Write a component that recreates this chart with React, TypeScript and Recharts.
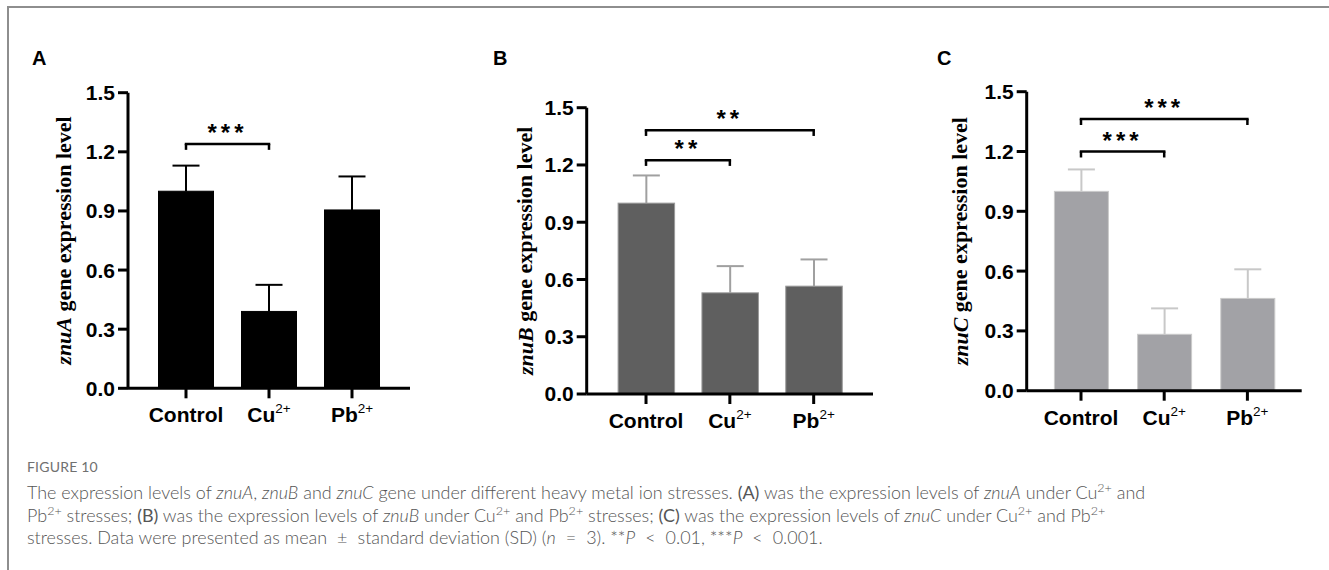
import React from "react";
import { BarChart, Bar, XAxis, YAxis, ReferenceLine } from "recharts";

const categories = ["Control", "Cu", "Pb"];
const categorySup = ["", "2+", "2+"];
const yTicks = [0, 0.3, 0.6, 0.9, 1.2, 1.5];

const znuAMean = [1.0, 0.39, 0.905];
const znuASd = [0.13, 0.135, 0.17];
const znuBMean = [1.0, 0.53, 0.565];
const znuBSd = [0.145, 0.14, 0.14];
const znuCMean = [1.0, 0.283, 0.463];
const znuCSd = [0.11, 0.13, 0.146];

const znuABrackets = [{ from: "Control", to: "Cu", level: 1.24, stars: "***" }];
const znuBBrackets = [
  { from: "Control", to: "Cu", level: 1.225, stars: "**" },
  { from: "Control", to: "Pb", level: 1.382, stars: "**" },
];
const znuCBrackets = [
  { from: "Control", to: "Cu", level: 1.2, stars: "***" },
  { from: "Control", to: "Pb", level: 1.363, stars: "***" },
];

const SANS = "'Liberation Sans', Arial, sans-serif";
const SERIF = "'Liberation Serif', 'Times New Roman', serif";

const XTick = (props: any) => {
  const { x, y, payload } = props;
  const i = categories.indexOf(payload.value);
  const sup = categorySup[i] || "";
  return (
    <text
      x={x}
      y={y + 22}
      textAnchor="middle"
      fontFamily={SANS}
      fontWeight="bold"
      fontSize={21}
      fill="#000"
    >
      {payload.value}
      {sup && (
        <tspan dy={-9} fontSize={13.5} fontWeight="normal">
          {sup}
        </tspan>
      )}
    </text>
  );
};

type PanelProps = {
  letter: string;
  gene: string;
  means: number[];
  sds: number[];
  brackets: { from: string; to: string; level: number; stars: string }[];
  fill: string;
  outline: string;
  errColor: string;
  left: number;
  width: number;
  axisX: number;
  yTop: number;
  yBottom: number;
  xEnd: number;
  pad: number;
  barSize: number;
  titleDist: number;
  letterX: number;
};

function Panel(p: PanelProps) {
  const height = 440;
  const yAxisW = 80;
  const xAxisH = 30;
  const data = categories.map((c, i) => ({ name: c, mean: p.means[i], sd: p.sds[i] }));

  const shape = (s: any) => {
    const { x, y, width, height: h, payload } = s;
    const perUnit = payload.mean ? h / payload.mean : 0;
    const top = y - payload.sd * perUnit;
    const cx = x + width / 2;
    return (
      <g>
        <rect x={x} y={y} width={width} height={h} fill={p.fill} stroke={p.outline} strokeWidth={1} />
        <line x1={cx} y1={y} x2={cx} y2={top} stroke={p.errColor} strokeWidth={2} />
        <line x1={cx - 13.5} y1={top} x2={cx + 13.5} y2={top} stroke={p.errColor} strokeWidth={2} />
      </g>
    );
  };

  const yTitle = () => {
    const cx = p.axisX - p.titleDist;
    const cy = (p.yTop + p.yBottom) / 2;
    return (
      <text
        x={cx}
        y={cy}
        transform={`rotate(-90 ${cx} ${cy})`}
        textAnchor="middle"
        dominantBaseline="central"
        fontFamily={SERIF}
        fontWeight="bold"
        fontSize={22}
        fill="#000"
      >
        <tspan fontStyle="italic">{p.gene}</tspan>
        {" gene expression level"}
      </text>
    );
  };

  const drop = 0.03;

  return (
    <div style={{ position: "absolute", left: p.left, top: 0, width: p.width, height }}>
      <div
        style={{
          position: "absolute",
          left: p.letterX - p.left,
          top: 47,
          fontFamily: SANS,
          fontWeight: "bold",
          fontSize: 20,
          lineHeight: "22px",
          color: "#000",
        }}
      >
        {p.letter}
      </div>
      <BarChart
        width={p.width}
        height={height}
        data={data}
        margin={{
          top: p.yTop,
          right: p.width - p.xEnd,
          bottom: height - p.yBottom - xAxisH,
          left: p.axisX - yAxisW,
        }}
      >
        <XAxis
          dataKey="name"
          height={xAxisH}
          padding={{ left: p.pad, right: p.pad }}
          axisLine={{ stroke: "#000", strokeWidth: 3 }}
          tickLine={{ stroke: "#000", strokeWidth: 3 }}
          tickSize={10}
          interval={0}
          tick={<XTick />}
        />
        <YAxis
          width={yAxisW}
          domain={[0, 1.5]}
          ticks={yTicks}
          interval={0}
          tickFormatter={(v: number) => v.toFixed(1)}
          axisLine={{ stroke: "#000", strokeWidth: 3 }}
          tickLine={{ stroke: "#000", strokeWidth: 3 }}
          tickSize={10}
          tickMargin={3}
          tick={{ fill: "#000", fontSize: 21, fontWeight: "bold", fontFamily: SANS }}
          label={{ content: yTitle }}
        />
        <Bar dataKey="mean" barSize={p.barSize} isAnimationActive={false} shape={shape} />
        {p.brackets.map((b, i) => (
          <React.Fragment key={i}>
            <ReferenceLine
              segment={[
                { x: b.from, y: b.level },
                { x: b.to, y: b.level },
              ]}
              stroke="#000"
              strokeWidth={2.5}
              strokeLinecap="square"
              label={{
                value: b.stars,
                position: "top",
                offset: 3,
                fill: "#000",
                fontSize: 24,
                fontWeight: "bold",
                fontFamily: SANS,
                letterSpacing: 4,
              }}
            />
            <ReferenceLine
              segment={[
                { x: b.from, y: b.level },
                { x: b.from, y: b.level - drop },
              ]}
              stroke="#000"
              strokeWidth={2.5}
            />
            <ReferenceLine
              segment={[
                { x: b.to, y: b.level },
                { x: b.to, y: b.level - drop },
              ]}
              stroke="#000"
              strokeWidth={2.5}
            />
          </React.Fragment>
        ))}
      </BarChart>
    </div>
  );
}

const capStyle: React.CSSProperties = {
  position: "absolute",
  left: 27,
  whiteSpace: "nowrap",
  fontFamily: "Lato, 'Open Sans', sans-serif",
  fontWeight: 300,
  fontSize: 17.95,
  color: "#555555",
  lineHeight: "20px",
};

const Sup = ({ children }: { children: React.ReactNode }) => (
  <sup style={{ fontSize: "0.7em", lineHeight: 0 }}>{children}</sup>
);

const Op = ({ children }: { children: React.ReactNode }) => (
  <span style={{ margin: "0 10px" }}>{children}</span>
);

export default function App() {
  return (
    <div
      style={{
        position: "absolute",
        left: 0,
        top: 0,
        width: 1329,
        height: 570,
        background: "#fff",
        overflow: "hidden",
      }}
    >
      <div
        style={{
          position: "absolute",
          left: 7,
          top: 6,
          width: 1340,
          height: 600,
          borderTop: "2px solid #8e8e8e",
          borderLeft: "2px solid #8e8e8e",
        }}
      />
      <Panel
        letter="A"
        gene="znuA"
        means={znuAMean}
        sds={znuASd}
        brackets={znuABrackets}
        fill="#000000"
        outline="#000000"
        errColor="#000000"
        left={0}
        width={440}
        axisX={128}
        yTop={92.7}
        yBottom={388.3}
        xEnd={410}
        pad={16.5}
        barSize={55}
        titleDist={65}
        letterX={32}
      />
      <Panel
        letter="B"
        gene="znuB"
        means={znuBMean}
        sds={znuBSd}
        brackets={znuBBrackets}
        fill="#5f5f5f"
        outline="#9a9a9a"
        errColor="#a0a0a0"
        left={440}
        width={440}
        axisX={146.7}
        yTop={107.7}
        yBottom={394}
        xEnd={433}
        pad={17.4}
        barSize={56.5}
        titleDist={61.7}
        letterX={493}
      />
      <Panel
        letter="C"
        gene="znuC"
        means={znuCMean}
        sds={znuCSd}
        brackets={znuCBrackets}
        fill="#a2a2a6"
        outline="#cacaca"
        errColor="#c8c8c8"
        left={880}
        width={449}
        axisX={146.7}
        yTop={91.7}
        yBottom={390.7}
        xEnd={421.7}
        pad={12.7}
        barSize={54}
        titleDist={66.7}
        letterX={937}
      />
      <div
        style={{
          ...capStyle,
          top: 459,
          fontSize: 14,
          fontWeight: 400,
          letterSpacing: 0.2,
          color: "#707070",
          lineHeight: "16px",
        }}
      >
        FIGURE 10
      </div>
      <div style={{ ...capStyle, top: 481.7 }}>
        The expression levels of <i>znuA</i>, <i>znuB</i> and <i>znuC</i> gene under different heavy
        metal ion stresses. <b>(A)</b> was the expression levels of <i>znuA</i> under Cu<Sup>2+</Sup> and
      </div>
      <div style={{ ...capStyle, top: 505 }}>
        Pb<Sup>2+</Sup> stresses; <b>(B)</b> was the expression levels of <i>znuB</i> under Cu<Sup>2+</Sup>{" "}
        and Pb<Sup>2+</Sup> stresses; <b>(C)</b> was the expression levels of <i>znuC</i> under Cu
        <Sup>2+</Sup> and Pb<Sup>2+</Sup>
      </div>
      <div style={{ ...capStyle, top: 526.7 }}>
        stresses. Data were presented as mean<Op>±</Op>standard deviation (SD) (<i>n</i>
        <Op>=</Op>3). **<i>P</i>
        <Op>&lt;</Op>0.01, ***<i>P</i>
        <Op>&lt;</Op>0.001.
      </div>
    </div>
  );
}
